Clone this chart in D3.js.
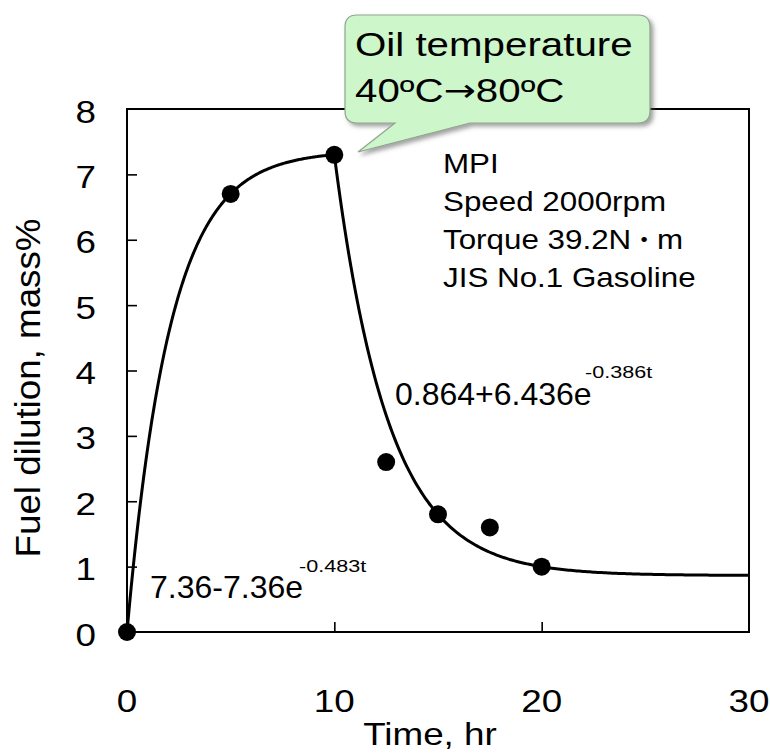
<!DOCTYPE html>
<html>
<head>
<meta charset="utf-8">
<script src="https://cdn.jsdelivr.net/npm/d3@7"></script>
<style>
  html, body { margin: 0; padding: 0; background: #ffffff; }
  svg { display: block; }
  text { font-family: "Liberation Sans", Arial, "Noto Sans CJK JP", sans-serif; fill: #000; }
</style>
</head>
<body>
<script>
// ---------- data ----------
const timeHr      = [0, 5, 10, 12.5, 15, 17.5, 20];
const dilution    = [0, 6.7, 7.3, 2.6, 1.8, 1.6, 1.0];
const xTicks      = [0, 10, 20, 30];
const yTicks      = [0, 1, 2, 3, 4, 5, 6, 7, 8];
// fitted curves shown on the chart: a - b*exp(-k t)  and  a + b*exp(-k (t - t0))
const riseFit     = [7.36, 7.36, 0.483];          // a, b, k  (t from 0 to 10)
const decayFit    = [0.864, 6.436, 0.386, 10];    // a, b, k, t0 (t from 10 to 30)
const riseLabel   = ["7.36-7.36e", "-0.483t"];
const decayLabel  = ["0.864+6.436e", "-0.386t"];
const calloutText = ["Oil temperature", "40ºC", "→", "80ºC"];
const condText    = ["MPI", "Speed 2000rpm", "Torque 39.2N", "・", "m", "JIS No.1 Gasoline"];
const xTitle = "Time, hr";
const yTitle = "Fuel dilution, mass%";

// ---------- layout ----------
const W = 770, H = 753;
const L = 127, R = 749, T = 109, B = 632;

const svg = d3.select("body").append("svg").attr("width", W).attr("height", H);

const x = d3.scaleLinear().domain([0, 30]).range([L, R]);
const y = d3.scaleLinear().domain([0, 8]).range([B, T]);

function sText(g, px, py, str, size, sx, anchor) {
  return g.append("text")
    .attr("transform", `translate(${px},${py}) scale(${sx},1)`)
    .attr("text-anchor", anchor || "start")
    .style("font-size", size + "px")
    .text(str);
}

// ticks (inward)
svg.append("g").attr("transform", `translate(${L},0)`)
  .call(d3.axisRight(y).tickValues(yTicks.slice(1, -1)).tickSize(10).tickSizeOuter(0).tickFormat(""))
  .call(g => g.select(".domain").remove())
  .call(g => g.selectAll("line").attr("stroke", "#000").attr("stroke-width", 1.6));
svg.append("g").attr("transform", `translate(0,${B})`)
  .call(d3.axisTop(x).tickValues(xTicks.slice(1, -1)).tickSize(10).tickSizeOuter(0).tickFormat(""))
  .call(g => g.select(".domain").remove())
  .call(g => g.selectAll("line").attr("stroke", "#000").attr("stroke-width", 1.6));

// frame
svg.append("rect").attr("x", L).attr("y", T).attr("width", R - L).attr("height", B - T)
  .attr("fill", "none").attr("stroke", "#000").attr("stroke-width", 2);

// tick labels
yTicks.forEach(v => sText(svg, 96, y(v) + 13.5, String(v), 32, 1.15, "end"));
xTicks.forEach(v => sText(svg, x(v), 712, String(v), 32, 1.15, "middle"));

// axis titles
sText(svg, 430, 745, xTitle, 32, 1.15, "middle");
svg.append("text")
  .attr("transform", "translate(40,388) rotate(-90) scale(1.05,1)")
  .attr("text-anchor", "middle")
  .style("font-size", "35px")
  .text(yTitle);

// fitted curves
const riseT = d3.range(0, 10.0001, 0.05);
const decayT = d3.range(10, 30.0001, 0.1);
const riseVals = riseT.map(t => [t, riseFit[0] - riseFit[1] * Math.exp(-riseFit[2] * t)]);
const decayVals = decayT.map(t => [t, decayFit[0] + decayFit[1] * Math.exp(-decayFit[2] * (t - decayFit[3]))]);
const line = d3.line().x(d => x(d[0])).y(d => y(d[1])).curve(d3.curveLinear);
svg.append("path").attr("d", line(riseVals.concat(decayVals)))
  .attr("fill", "none").attr("stroke", "#000").attr("stroke-width", 3).attr("stroke-linejoin", "round");

// data points
svg.append("g").selectAll("circle").data(timeHr.map((t, i) => [t, dilution[i]])).join("circle")
  .attr("cx", d => x(d[0])).attr("cy", d => y(d[1])).attr("r", 9).attr("fill", "#000");

// equations
sText(svg, 150, 598, riseLabel[0], 32, 1.0);
sText(svg, 299, 572, riseLabel[1], 16, 1.35);
sText(svg, 395, 405, decayLabel[0], 32, 1.0);
sText(svg, 585, 378, decayLabel[1], 16, 1.35);

// conditions
sText(svg, 443, 173, condText[0], 28, 1.12);
sText(svg, 443, 211, condText[1], 28, 1.12);
const tq = sText(svg, 443, 249, condText[2], 28, 1.12);
tq.append("tspan").attr("dx", 0).attr("dy", -1).style("font-size", "23px").text(condText[3]);
tq.append("tspan").attr("dx", 0).attr("dy", 1).text(condText[4]);
sText(svg, 443, 287, condText[5], 28, 1.12);

// callout
const defs = svg.append("defs");
const f = defs.append("filter").attr("id", "shadow").attr("x", "-10%").attr("y", "-10%").attr("width", "130%").attr("height", "140%");
f.append("feDropShadow").attr("dx", 3).attr("dy", 3).attr("stdDeviation", 2)
  .attr("flood-color", "#555").attr("flood-opacity", 0.55);
const cp = d3.path();
cp.moveTo(357, 15); cp.lineTo(638, 15); cp.quadraticCurveTo(650, 15, 650, 27);
cp.lineTo(650, 111); cp.quadraticCurveTo(650, 123, 638, 123);
cp.lineTo(470, 123); cp.lineTo(358, 152); cp.lineTo(395, 123);
cp.lineTo(357, 123); cp.quadraticCurveTo(345, 123, 345, 111);
cp.lineTo(345, 27); cp.quadraticCurveTo(345, 15, 357, 15); cp.closePath();
svg.append("path").attr("d", cp.toString())
  .attr("fill", "#cdf6cb").attr("stroke", "#8fa58f").attr("stroke-width", 1.2)
  .attr("filter", "url(#shadow)");
sText(svg, 355, 56, calloutText[0], 32.5, 1.24);
const c2 = sText(svg, 355, 102, calloutText[1], 32.5, 1.24);
c2.append("tspan").style("font-family", "'DejaVu Sans'").style("font-size", "31px").attr("dy", -1).text(calloutText[2]);
c2.append("tspan").attr("dy", 1).text(calloutText[3]);
</script>
</body>
</html>
